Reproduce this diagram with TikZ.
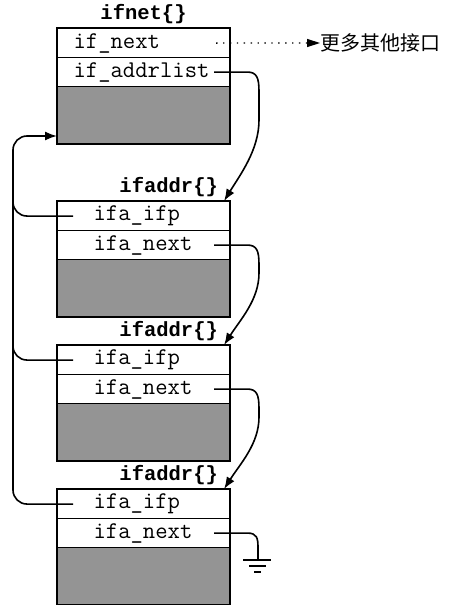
\documentclass[tikz,border=0pt]{standalone}
\usepackage{fontspec}
\newfontfamily\cjk{Noto Sans CJK SC}
\newfontfamily\boldmono{Liberation Mono}
\usetikzlibrary{arrows.meta}
\begin{document}
\begin{tikzpicture}[x=1pt,y=-1pt,
  every node/.style={font=\ttfamily\fontsize{24}{26}\selectfont},
  rowbase/.style={draw, line width=1.1pt, anchor=north west, minimum width=172pt,
    minimum height=29pt, inner ysep=0pt, align=left},
  rowA/.style={rowbase, inner xsep=16pt, text width=140pt},
  rowB/.style={rowbase, inner xsep=36pt, text width=100pt},
  grayrow/.style={draw, line width=1.1pt, anchor=north west, fill=black!42,
    minimum width=172pt, minimum height=57pt, inner sep=0pt},
  title/.style={font=\boldmono\bfseries\fontsize{20.5}{24}\selectfont, inner sep=1pt},
  outline/.style={line width=2pt},
  link/.style={line width=1.6pt},
  tip/.style={-{Latex[length=12pt,width=9pt]}},
]
\useasboundingbox (0,0) rectangle (452,605);

% ifnet
\node[rowA] (n1) at (57,28) {if\_next};
\node[rowA] (n2) at (57,57) {if\_addrlist};
\node[grayrow] (n3) at (57,86) {};
\draw[outline] (n1.north west) rectangle (n3.south east);
\node[title, anchor=south] (tn) at ([yshift=3pt]n1.north) {ifnet\{\}};

% ifaddr 1
\node[rowB] (a1) at (57,201) {ifa\_ifp};
\node[rowB] (a2) at (57,230) {ifa\_next};
\node[grayrow] (a3) at (57,259) {};
\draw[outline] (a1.north west) rectangle (a3.south east);
\node[title, anchor=south east] (ta) at ([xshift=-11pt,yshift=3pt]a1.north east) {ifaddr\{\}};

% ifaddr 2
\node[rowB] (b1) at (57,345) {ifa\_ifp};
\node[rowB] (b2) at (57,374) {ifa\_next};
\node[grayrow] (b3) at (57,403) {};
\draw[outline] (b1.north west) rectangle (b3.south east);
\node[title, anchor=south east] (tb) at ([xshift=-11pt,yshift=3pt]b1.north east) {ifaddr\{\}};

% ifaddr 3
\node[rowB] (c1) at (57,489) {ifa\_ifp};
\node[rowB] (c2) at (57,518) {ifa\_next};
\node[grayrow] (c3) at (57,547) {};
\draw[outline] (c1.north west) rectangle (c3.south east);
\node[title, anchor=south east] (tc) at ([xshift=-11pt,yshift=3pt]c1.north east) {ifaddr\{\}};

% more interfaces
\node[font=\cjk\fontsize{20}{24}\selectfont, anchor=west, inner sep=0pt] (more) at (320,43) {更多其他接口};
\draw[line width=1.4pt, dash pattern=on 1.4pt off 5.5pt, -{Triangle[length=13pt,width=8pt]}]
  ([xshift=-14pt]n1.east) -- (more.west);

% next pointers
\coordinate (ta1) at ([xshift=-6pt]a1.north east);
\coordinate (tb1) at ([xshift=-6pt]b1.north east);
\coordinate (tc1) at ([xshift=-6pt]c1.north east);
\draw[link, tip] ([xshift=-16pt]n2.east) -- ++(33,0) .. controls +(10,0) and (259,78) .. (259,92)
  -- (259,120) .. controls (259,150) and (240,175) .. (ta1);
\draw[link, tip] ([xshift=-16pt]a2.east) -- ++(33,0) .. controls +(10,0) and (259,251) .. (259,265)
  -- (259,273) .. controls (259,300) and (240,320) .. (tb1);
\draw[link, tip] ([xshift=-16pt]b2.east) -- ++(33,0) .. controls +(10,0) and (259,395) .. (259,409)
  -- (259,417) .. controls (259,444) and (240,464) .. (tc1);

% null pointer with ground
\coordinate (g0) at (258,560);
\draw[link] ([xshift=-16pt]c2.east) -- ++(33,0) .. controls +(10,0) and (258,538) .. (258,548) -- (g0);
\draw[link] ([xshift=-15pt]g0) -- ([xshift=13pt]g0);
\draw[link] ([xshift=-9pt,yshift=-6pt]g0) -- ([xshift=8pt,yshift=-6pt]g0);
\draw[link] ([xshift=-4pt,yshift=-12pt]g0) -- ([xshift=3pt,yshift=-12pt]g0);

% ifa_ifp back pointers
\coordinate (lft) at (13,136);
\draw[link, rounded corners=14pt] ([xshift=16pt]a1.west) -| ([yshift=20pt]lft |- a1.west);
\draw[link, rounded corners=14pt] ([xshift=16pt]b1.west) -| ([yshift=20pt]lft |- b1.west);
\draw[link, rounded corners=14pt, tip] ([xshift=16pt]c1.west) -| (lft) -- (lft -| n3.west);
\end{tikzpicture}
\end{document}
